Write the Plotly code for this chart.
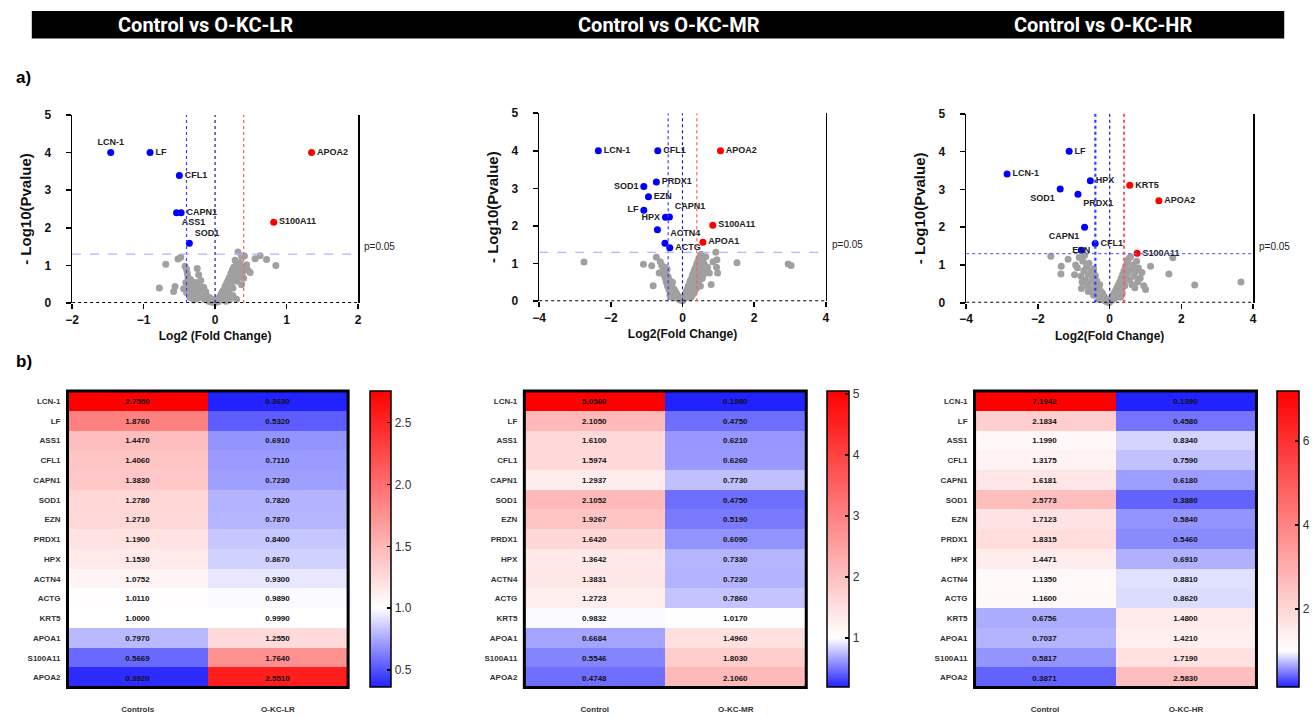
import plotly.graph_objects as go

W, H = 1315, 717

# ---------------- DATA ----------------
titles = ["Control vs O-KC-LR", "Control vs O-KC-MR", "Control vs O-KC-HR"]

# Volcano 1 (Control vs O-KC-LR)
v1_down_x = [-1.46, -0.91, -0.50, -0.54, -0.475, -0.36]
v1_down_y = [4.0, 4.0, 3.39, 2.40, 2.40, 1.59]
v1_down_lab = ["LCN-1", "LF", "CFL1", "ASS1", "CAPN1", "SOD1"]
v1_down_pos = ["top center", "middle right", "middle right", "bottom right", "middle right", "top right"]
v1_up_x = [1.35, 0.82]
v1_up_y = [4.0, 2.15]
v1_up_lab = ["APOA2", "S100A11"]
v1_ns_x = [-0.78, -0.69, -0.58, -0.56, -0.52, -0.48, -0.44, -0.42, -0.40, -0.39, -0.41, -0.40, -0.38, -0.37,
           -0.36, -0.34, -0.33, -0.31, -0.30, -0.28, -0.27, -0.25, -0.24, -0.23, -0.22, -0.21, -0.20, -0.19,
           -0.18, -0.17, -0.16, -0.15, -0.14, -0.13, -0.12, -0.11, -0.10, -0.09, -0.08, -0.07, -0.06, -0.05,
           -0.04, -0.03, -0.02, -0.01, 0.00, 0.01, 0.02, 0.03, 0.04, 0.05, 0.06, 0.07, 0.08, 0.09, 0.10, 0.11,
           0.12, 0.13, 0.14, 0.15, 0.16, 0.17, 0.18, 0.19, 0.20, 0.21, 0.22, 0.23, 0.24, 0.25, 0.26, 0.27,
           0.28, 0.29, 0.30, 0.31, 0.32, 0.33, 0.34, 0.35, 0.36, 0.37, 0.37, 0.38, 0.40, 0.41, 0.43, 0.46,
           0.49, 0.44, 0.56, 0.63, 0.72, 0.85, 0.30, 0.20, 0.15, -0.25, -0.30, -0.35, 0.25, 0.18, -0.28]
v1_ns_y = [0.40, 1.03, 0.31, 0.44, 1.17, 1.22, 0.38, 0.98, 0.90, 0.80, 0.55, 0.28, 0.70, 0.45,
           0.18, 0.62, 0.35, 0.50, 0.25, 0.40, 0.55, 0.92, 0.30, 0.75, 0.45, 0.20, 0.60, 0.35,
           0.15, 0.28, 0.42, 0.10, 0.22, 0.30, 0.08, 0.18, 0.12, 0.05, 0.15, 0.08, 0.03, 0.10,
           0.05, 0.02, 0.06, 0.01, 0.03, 0.02, 0.08, 0.05, 0.12, 0.04, 0.15, 0.10, 0.22, 0.18, 0.30, 0.12,
           0.35, 0.25, 0.45, 0.20, 0.52, 0.38, 0.60, 0.30, 0.68, 0.48, 0.78, 0.55, 0.88, 0.40, 0.95, 0.65,
           1.14, 0.75, 1.02, 0.58, 1.36, 0.85, 0.70, 1.08, 0.92, 1.25, 0.49, 0.78, 0.66, 1.25, 0.95, 0.87,
           0.81, 1.02, 1.18, 1.26, 1.16, 1.00, 0.10, 0.08, 0.05, 0.12, 0.08, 0.15, 0.20, 0.12, 0.20]

# Volcano 2 (Control vs O-KC-MR)
v2_down_x = [-2.35, -0.69, -0.73, -1.08, -0.95, -1.08, -0.475, -0.365, -0.70, -0.49, -0.355]
v2_down_y = [4.0, 4.0, 3.17, 3.05, 2.78, 2.42, 2.23, 2.24, 1.90, 1.54, 1.42]
v2_down_lab = ["LCN-1", "CFL1", "PRDX1", "SOD1", "EZN", "LF", "HPX", "CAPN1", "", "ACTN4", "ACTG"]
v2_down_pos = ["middle right", "middle right", "middle right", "middle left", "middle right", "middle left",
               "middle left", "top right", "middle right", "top right", "middle right"]
v2_up_x = [1.06, 0.845, 0.57]
v2_up_y = [4.0, 2.02, 1.57]
v2_up_lab = ["APOA2", "S100A11", "APOA1"]
v2_ns_x = [-2.75, -1.09, -0.86, -0.82, -0.73, -0.62, -0.58, -0.55, -0.52, -0.50, -0.48, -0.46, -0.45, -0.43,
           -0.42, -0.40, -0.38, -0.36, -0.34, -0.32, -0.30, -0.28, -0.26, -0.24, -0.22, -0.20, -0.18, -0.16,
           -0.14, -0.12, -0.10, -0.08, -0.06, -0.04, -0.02, 0.00, 0.02, 0.04, 0.06, 0.08, 0.10, 0.12, 0.14,
           0.16, 0.18, 0.20, 0.22, 0.24, 0.26, 0.28, 0.30, 0.32, 0.34, 0.36, 0.38, 0.40, 0.42, 0.44, 0.46,
           0.48, 0.50, 0.52, 0.54, 0.56, 0.58, 0.60, 0.62, 0.65, 0.70, 0.75, 0.80, 0.85, 0.93, 0.96, 0.95,
           0.98, 1.52, 2.95, 3.03, 0.30, 0.25, 0.35, -0.35, 0.45, 0.50, 0.55, -0.65, 0.40, -0.30, 0.20]
v2_ns_y = [1.04, 0.98, 0.94, 0.41, 1.17, 1.05, 0.95, 0.80, 0.70, 0.90, 0.60, 0.75, 0.50, 0.85,
           0.40, 0.65, 0.30, 0.55, 0.45, 0.25, 0.38, 0.50, 0.20, 0.32, 0.15, 0.26, 0.10, 0.20,
           0.08, 0.14, 0.05, 0.10, 0.03, 0.06, 0.02, 0.01, 0.04, 0.08, 0.12, 0.18, 0.25, 0.15, 0.32,
           0.40, 0.22, 0.48, 0.55, 0.35, 0.62, 0.70, 0.45, 0.78, 0.85, 0.55, 0.92, 1.00, 0.65, 1.08, 1.15,
           0.80, 1.22, 1.25, 0.95, 1.10, 0.70, 1.00, 0.85, 1.18, 0.90, 0.75, 0.44, 1.05, 1.30, 1.10, 0.90,
           0.75, 1.02, 0.99, 0.95, 0.20, 0.12, 0.30, 0.15, 0.50, 0.40, 0.60, 0.75, 0.35, 0.12, 0.10]

# Volcano 3 (Control vs O-KC-HR)
v3_down_x = [-1.13, -2.86, -0.54, -1.38, -0.885, -0.70, -0.405, -0.79]
v3_down_y = [4.01, 3.41, 3.23, 3.01, 2.87, 2.00, 1.57, 1.39]
v3_down_lab = ["LF", "LCN-1", "HPX", "SOD1", "PRDX1", "CAPN1", "CFL1", "EZN"]
v3_down_pos = ["middle right", "middle right", "middle right", "bottom left", "bottom right", "bottom left",
               "middle right", "middle center"]
v3_up_x = [0.56, 1.37, 0.765]
v3_up_y = [3.11, 2.70, 1.31]
v3_up_lab = ["KRT5", "APOA2", "S100A11"]
v3_ns_x = [-1.64, -1.16, -1.35, -1.36, -0.98, -0.95, -0.90, -0.85, -0.80, -0.79, -0.77, -0.75, -0.72, -0.70,
           -0.68, -0.65, -0.62, -0.60, -0.58, -0.55, -0.52, -0.50, -0.48, -0.45, -0.42, -0.40, -0.38, -0.36,
           -0.34, -0.32, -0.30, -0.28, -0.26, -0.24, -0.22, -0.20, -0.18, -0.16, -0.14, -0.12, -0.10, -0.08,
           -0.06, -0.04, -0.02, 0.00, 0.02, 0.04, 0.06, 0.08, 0.10, 0.12, 0.14, 0.16, 0.18, 0.20, 0.22, 0.24,
           0.26, 0.28, 0.30, 0.32, 0.34, 0.36, 0.38, 0.40, 0.42, 0.44, 0.46, 0.48, 0.50, 0.52, 0.55, 0.58,
           0.60, 0.62, 0.65, 0.68, 0.70, 0.72, 0.75, 0.78, 0.80, 0.85, 0.90, 0.95, 1.00, 1.14, 1.65, 1.76,
           2.37, 3.66, 0.30, -0.30, 0.35, 0.25, -0.45, -0.60]
v3_ns_y = [1.23, 1.15, 0.97, 0.76, 0.74, 1.00, 0.93, 1.20, 0.70, 0.38, 0.55, 1.10, 0.85, 1.25,
           0.60, 0.95, 0.45, 0.75, 1.05, 0.55, 0.85, 0.35, 0.65, 0.90, 0.50, 0.72, 0.30, 0.58,
           0.42, 0.22, 0.35, 0.48, 0.18, 0.30, 0.12, 0.25, 0.08, 0.18, 0.06, 0.12, 0.04, 0.08,
           0.02, 0.05, 0.01, 0.02, 0.05, 0.10, 0.15, 0.08, 0.20, 0.25, 0.12, 0.32, 0.18, 0.40, 0.28, 0.48,
           0.35, 0.55, 0.42, 0.65, 0.50, 0.75, 0.58, 0.85, 0.45, 0.95, 0.68, 1.05, 0.78, 1.15, 0.60, 1.22,
           0.88, 0.48, 1.00, 0.70, 0.40, 0.82, 1.10, 0.55, 0.92, 0.65, 0.80, 0.45, 0.35, 0.97, 0.76, 1.19,
           0.47, 0.55, 0.15, 0.10, 0.25, 0.20, 0.20, 0.30]

fc_thr = [-0.4, 0.4]
p_thr = 1.3
x_ranges = [[-2, 2], [-4, 4], [-4, 4]]
x_ticks = [[-2, -1, 0, 1, 2], [-4, -2, 0, 2, 4], [-4, -2, 0, 2, 4]]
x_titles = ["Log2 (Fold Change)", "Log2(Fold Change)", "Log2(Fold Change)"]

# Heatmaps
proteins = ["LCN-1", "LF", "ASS1", "CFL1", "CAPN1", "SOD1", "EZN", "PRDX1", "HPX", "ACTN4", "ACTG",
            "KRT5", "APOA1", "S100A11", "APOA2"]
h1_cols = ["Controls", "O-KC-LR"]
h1_ctrl = [2.7550, 1.8760, 1.4470, 1.4060, 1.3830, 1.2780, 1.2710, 1.1900, 1.1530, 1.0752, 1.0110,
           1.0000, 0.7970, 0.5669, 0.3920]
h1_trt = [0.3630, 0.5320, 0.6910, 0.7110, 0.7230, 0.7820, 0.7870, 0.8400, 0.8670, 0.9300, 0.9890,
          0.9990, 1.2550, 1.7640, 2.5510]
h2_cols = ["Control", "O-KC-MR"]
h2_ctrl = [5.0500, 2.1050, 1.6100, 1.5974, 1.2937, 2.1052, 1.9267, 1.6420, 1.3642, 1.3831, 1.2723,
           0.9832, 0.6684, 0.5546, 0.4748]
h2_trt = [0.1980, 0.4750, 0.6210, 0.6260, 0.7730, 0.4750, 0.5190, 0.6090, 0.7330, 0.7230, 0.7860,
          1.0170, 1.4960, 1.8030, 2.1060]
h3_cols = ["Control", "O-KC-HR"]
h3_ctrl = [7.1942, 2.1834, 1.1990, 1.3175, 1.6181, 2.5773, 1.7123, 1.8315, 1.4471, 1.1350, 1.1600,
           0.6756, 0.7037, 0.5817, 0.3871]
h3_trt = [0.1390, 0.4580, 0.8340, 0.7590, 0.6180, 0.3880, 0.5840, 0.5460, 0.6910, 0.8810, 0.8620,
          1.4800, 1.4210, 1.7190, 2.5830]
cb_ticks = [[0.5, 1.0, 1.5, 2.0, 2.5], [1, 2, 3, 4, 5], [2, 4, 6]]
cb_fmt = [".1f", "d", "d"]

# ---------------- LAYOUT HELPERS ----------------
def xd(a, b):
    return [a / W, b / W]

def yd(top, bottom):
    return [1 - bottom / H, 1 - top / H]

volc_x = [(65.7, 354.0), (536.7, 825.7), (967.3, 1256.7)]
volc_y = [(110.0, 302.0), (108.3, 300.0), (109.0, 301.7)]
heat_x = [(61.0, 344.0), (521.7, 806.0), (975.7, 1260.0)]
heat_y = (391.7, 694.0)
cb_x = [365.7, 826.7, 1281.0]
cb_th = [21, 22, 22]

FAM = "Liberation Sans, Arial, sans-serif"
BOLD = dict(family=FAM, weight="bold", color="#111")

fig = go.Figure()
layout = dict(width=W, height=H, margin=dict(l=0, r=0, t=0, b=0), paper_bgcolor="white",
              plot_bgcolor="white", showlegend=False, hovermode=False, shapes=[], annotations=[])

volc = [
    (v1_ns_x, v1_ns_y, v1_down_x, v1_down_y, v1_down_lab, v1_down_pos, v1_up_x, v1_up_y, v1_up_lab),
    (v2_ns_x, v2_ns_y, v2_down_x, v2_down_y, v2_down_lab, v2_down_pos, v2_up_x, v2_up_y, v2_up_lab),
    (v3_ns_x, v3_ns_y, v3_down_x, v3_down_y, v3_down_lab, v3_down_pos, v3_up_x, v3_up_y, v3_up_lab),
]

for i, (nx, ny, dx, dy, dl, dp, ux, uy, ul) in enumerate(volc):
    k = i + 1
    xa = "x" if k == 1 else f"x{k}"
    ya = "y" if k == 1 else f"y{k}"
    lab_font = dict(size=9, family=FAM, weight="bold", color="#222")
    fig.add_trace(go.Scatter(x=nx, y=ny, mode="markers", xaxis=xa, yaxis=ya,
                             marker=dict(size=7, color="#a0a0a0"), cliponaxis=False))
    fig.add_trace(go.Scatter(x=dx, y=dy, mode="markers+text", xaxis=xa, yaxis=ya, text=dl,
                             textposition=dp, textfont=lab_font,
                             marker=dict(size=7, color="#0000ff"), cliponaxis=False))
    fig.add_trace(go.Scatter(x=ux, y=uy, mode="markers+text", xaxis=xa, yaxis=ya, text=ul,
                             textposition="middle right", textfont=lab_font,
                             marker=dict(size=7, color="#ff0000"), cliponaxis=False))
    axn = "xaxis" if k == 1 else f"xaxis{k}"
    ayn = "yaxis" if k == 1 else f"yaxis{k}"
    layout[axn] = dict(domain=xd(*volc_x[i]), range=x_ranges[i], tickvals=x_ticks[i], anchor=ya,
                       showline=False, zeroline=False, showgrid=False, ticks="outside", ticklen=5,
                       tickcolor="black", tickwidth=1.5, tickfont=dict(size=12, **BOLD),
                       title=dict(text=x_titles[i], font=dict(size=12, **BOLD), standoff=6))
    layout[ayn] = dict(domain=yd(*volc_y[i]), range=[0, 5], dtick=1, anchor=xa, showline=True,
                       mirror=True, linecolor="black", linewidth=1.5, zeroline=False, showgrid=False,
                       ticks="outside", ticklen=5, tickcolor="black", tickwidth=1.5,
                       ticklabelstandoff=12, tickfont=dict(size=12, **BOLD),
                       title=dict(text="- Log10(Pvalue)", font=dict(size=15, **BOLD), standoff=9))
    lo, hi = x_ranges[i]
    thick = 2.2 if k == 3 else 1.2
    layout["shapes"].append(dict(type="line", xref=xa, yref=ya, x0=lo, x1=hi, y0=0, y1=0,
                                 line=dict(color="black", width=2, dash="dot")))
    layout["shapes"].append(dict(type="line", xref=xa, yref=ya, x0=fc_thr[0], x1=fc_thr[0], y0=0, y1=5,
                                 line=dict(color="#3b3bff", width=thick, dash="dot")))
    layout["shapes"].append(dict(type="line", xref=xa, yref=ya, x0=0, x1=0, y0=0, y1=5,
                                 line=dict(color="#1c1c9c", width=1.2, dash="dot")))
    layout["shapes"].append(dict(type="line", xref=xa, yref=ya, x0=fc_thr[1], x1=fc_thr[1], y0=0, y1=5,
                                 line=dict(color="#ff5a5a", width=thick, dash="dot")))
    hcol = "#6b6bff" if k == 3 else "#b4b4ff"
    layout["shapes"].append(dict(type="line", xref=xa, yref=ya, x0=lo, x1=hi, y0=p_thr, y1=p_thr,
                                 line=dict(color=hcol, width=1.2, dash="dot" if k == 3 else "dash")))
    layout["annotations"].append(dict(text="p=0.05", xref="paper", yref=ya, x=(volc_x[i][1] + 4) / W,
                                      y=p_thr, xanchor="left", yanchor="bottom", showarrow=False,
                                      font=dict(size=10, family=FAM, color="#222")))

heats = [(h1_ctrl, h1_trt, h1_cols), (h2_ctrl, h2_trt, h2_cols), (h3_ctrl, h3_trt, h3_cols)]
for i, (c, t, cols) in enumerate(heats):
    k = i + 4
    z = [[a, b] for a, b in zip(c, t)]
    zmin = min(c + t)
    zmax = max(c + t)
    mid = (1 - zmin) / (zmax - zmin)
    cs = [[0, "#2222ff"], [mid, "#ffffff"], [1, "#ff0000"]]
    fig.add_trace(go.Heatmap(z=z, x=cols, y=proteins, xaxis=f"x{k}", yaxis=f"y{k}", colorscale=cs,
                             zmin=zmin, zmax=zmax, texttemplate="%{z:.4f}",
                             textfont=dict(size=8, family=FAM, weight="bold", color="#111"),
                             colorbar=dict(x=cb_x[i] / W, xanchor="left", thickness=cb_th[i], thicknessmode="pixels",
                                           len=(heat_y[1] - heat_y[0]) / H, lenmode="fraction",
                                           y=1 - heat_y[0] / H, yanchor="top", xpad=0, ypad=0,
                                           outlinewidth=1.5, outlinecolor="black", tickvals=cb_ticks[i],
                                           tickformat=cb_fmt[i], ticks="inside", ticklen=4, tickcolor="black",
                                           tickwidth=1.5, tickfont=dict(size=12, family=FAM, color="#333"))))
    layout[f"xaxis{k}"] = dict(domain=xd(*heat_x[i]), anchor=f"y{k}", showgrid=False, zeroline=False,
                               showline=False, ticks="", ticklabelstandoff=16,
                               tickfont=dict(size=8, family=FAM, weight="bold", color="#333"))
    layout[f"yaxis{k}"] = dict(domain=yd(*heat_y), anchor=f"x{k}", autorange="reversed", showgrid=False,
                               zeroline=False, showline=False, ticks="", ticklabelstandoff=6,
                               tickfont=dict(size=8, family=FAM, weight="bold", color="#333"))
    layout["shapes"].append(dict(type="rect", xref="paper", yref="paper",
                                 x0=heat_x[i][0] / W, x1=heat_x[i][1] / W,
                                 y0=1 - heat_y[1] / H, y1=1 - heat_y[0] / H,
                                 line=dict(color="black", width=3)))

# Title bar
layout["shapes"].append(dict(type="rect", xref="paper", yref="paper", x0=25 / W, x1=1288 / W,
                             y0=1 - 32 / H, y1=1 - 4 / H, fillcolor="black", line=dict(width=0), layer="below"))
title_cx = [200, 668, 1105]
for t, cx in zip(titles, title_cx):
    layout["annotations"].append(dict(text=t, xref="paper", yref="paper", x=cx / W, y=1 - 18 / H,
                                      xanchor="center", yanchor="middle", showarrow=False,
                                      font=dict(size=20, family="Roboto, Liberation Sans", weight="bold",
                                                color="white")))
for lab, yy in [("a)", 72), ("b)", 362)]:
    layout["annotations"].append(dict(text=lab, xref="paper", yref="paper", x=7 / W, y=1 - yy / H,
                                      xanchor="left", yanchor="middle", showarrow=False,
                                      font=dict(size=17, family=FAM, weight="bold", color="black")))

fig.update_layout(**layout)
fig.write_html("out.html", config={"displayModeBar": False, "staticPlot": True},
               post_script="document.body.style.margin='0px';document.body.style.overflow='hidden';")
